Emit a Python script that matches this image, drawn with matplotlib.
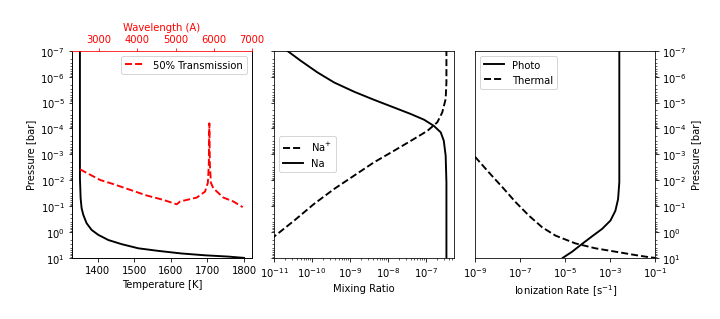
import numpy as np
import matplotlib
matplotlib.use("Agg")
import matplotlib.pyplot as plt

plt.rcParams['lines.linewidth'] = 1.9

# temperature profile, log10 pressure in bar
tp_logp = [-7.0, -3.0, -2.08, -1.31, -0.92, -0.66, -0.34, -0.08, 0.11, 0.31,
           0.47, 0.63, 0.73, 0.83, 0.90, 0.95, 1.0]
tp_temp = [1350.7, 1350.7, 1350.7, 1352.6, 1355.3, 1360, 1369, 1382.7, 1401, 1428.5,
           1465, 1510.7, 1565.5, 1629, 1693, 1757, 1800]

# 50% transmission pressure vs wavelength
tr_wave = [2500, 3026, 3374, 3810, 4247, 4681, 5031, 5118, 5554, 5771, 5845,
           5870, 5884, 5898, 5925, 5988, 6250, 6511, 6757]
tr_logp = [-2.42, -2.01, -1.85, -1.63, -1.41, -1.24, -1.07, -1.18, -1.33, -1.56, -1.9,
           -2.6, -4.2, -2.6, -1.9, -1.69, -1.33, -1.18, -0.96]

# Na mixing ratio
na_logx = [-10.9, -10.65, -10.30, -9.86, -9.42, -8.89, -8.37, -7.84, -7.40, -7.05,
           -6.79, -6.61, -6.53, -6.48, -6.46, -6.46]
na_logp = [-7.25, -7.0, -6.62, -6.17, -5.78, -5.42, -5.11, -4.81, -4.56, -4.34,
           -4.10, -3.85, -3.53, -2.95, -1.92, 1.0]
# Na+ mixing ratio
nap_logx = [-6.46, -6.46, -6.48, -6.57, -6.70, -6.96, -7.32, -7.84, -8.37, -8.89,
            -9.42, -9.95, -10.47, -11.0, -11.3]
nap_logp = [-7.07, -5.78, -5.14, -4.62, -4.24, -3.91, -3.59, -3.14, -2.69, -2.18,
            -1.66, -1.08, -0.44, 0.18, 0.5]

# ionization rates
ph_logx = [-2.595, -2.595, -2.595, -2.65, -2.77, -2.99, -3.36, -3.81, -4.25, -4.69, -5.11]
ph_logp = [-7.0, -3.20, -1.92, -1.27, -0.82, -0.44, -0.12, 0.17, 0.46, 0.76, 1.0]
th_logx = [-9.3, -8.98, -8.39, -7.79, -7.20, -6.61, -6.02, -5.43, -4.55, -3.66,
           -2.77, -1.89, -1.22, -1.0]
th_logp = [-3.2, -2.88, -2.30, -1.73, -1.15, -0.63, -0.18, 0.14, 0.44, 0.63,
           0.76, 0.89, 0.98, 1.0]

fig = plt.figure(figsize=(10, 4.4444), dpi=72)
w = 0.25
b, h = 0.191, 0.647
ax1 = fig.add_axes([0.1, b, w, h])
ax2 = fig.add_axes([0.3806, b, w, h])
ax3 = fig.add_axes([0.660, b, w, h])

# left panel
ax1.plot(tp_temp, 10 ** np.array(tp_logp), 'k-')
ax1.set_yscale('log')
ax1.set_xlim(1329, 1822)
ax1.set_xticks([1400, 1500, 1600, 1700, 1800])
ax1.set_xlabel('Temperature [K]')
ax1.set_ylabel('Pressure [bar]')
ax1.spines['top'].set_visible(False)

ax1t = ax1.twiny()
ax1t.plot(tr_wave, 10 ** np.array(tr_logp), 'r--', label='50% Transmission')
ax1t.set_xlim(2290, 7000)
ax1t.set_xticks([3000, 4000, 5000, 6000, 7000])
ax1t.set_xlabel('Wavelength (A)', color='r')
ax1t.tick_params(axis='x', colors='r')
ax1t.spines['top'].set_color('r')
ax1t.legend(loc='upper right')
ax1.set_ylim(1e1, 1e-7)

# middle panel
ax2.plot(10 ** np.array(nap_logx), 10 ** np.array(nap_logp), 'k--', label='Na$^{+}$')
ax2.plot(10 ** np.array(na_logx), 10 ** np.array(na_logp), 'k-', label='Na')
ax2.set_xscale('log')
ax2.set_yscale('log')
ax2.set_xlim(1e-11, 5.5e-7)
ax2.set_ylim(1e1, 1e-7)
ax2.set_xticks([1e-11, 1e-10, 1e-9, 1e-8, 1e-7])
ax2.tick_params(axis='y', which='both', labelleft=False)
ax2.set_xlabel('Mixing Ratio')
ax2.legend(loc='center left')

# right panel
ax3.plot(10 ** np.array(ph_logx), 10 ** np.array(ph_logp), 'k-', label='Photo')
ax3.plot(10 ** np.array(th_logx), 10 ** np.array(th_logp), 'k--', label='Thermal')
ax3.set_xscale('log')
ax3.set_yscale('log')
ax3.set_xlim(1e-9, 1e-1)
ax3.set_ylim(1e1, 1e-7)
ax3.set_xticks([1e-9, 1e-7, 1e-5, 1e-3, 1e-1])
ax3.yaxis.tick_right()
ax3.yaxis.set_label_position('right')
ax3.set_ylabel('Pressure [bar]')
ax3.set_xlabel('Ionization Rate [s$^{-1}$]')
ax3.legend(loc='upper left')

fig.savefig('out.png', dpi=72)
